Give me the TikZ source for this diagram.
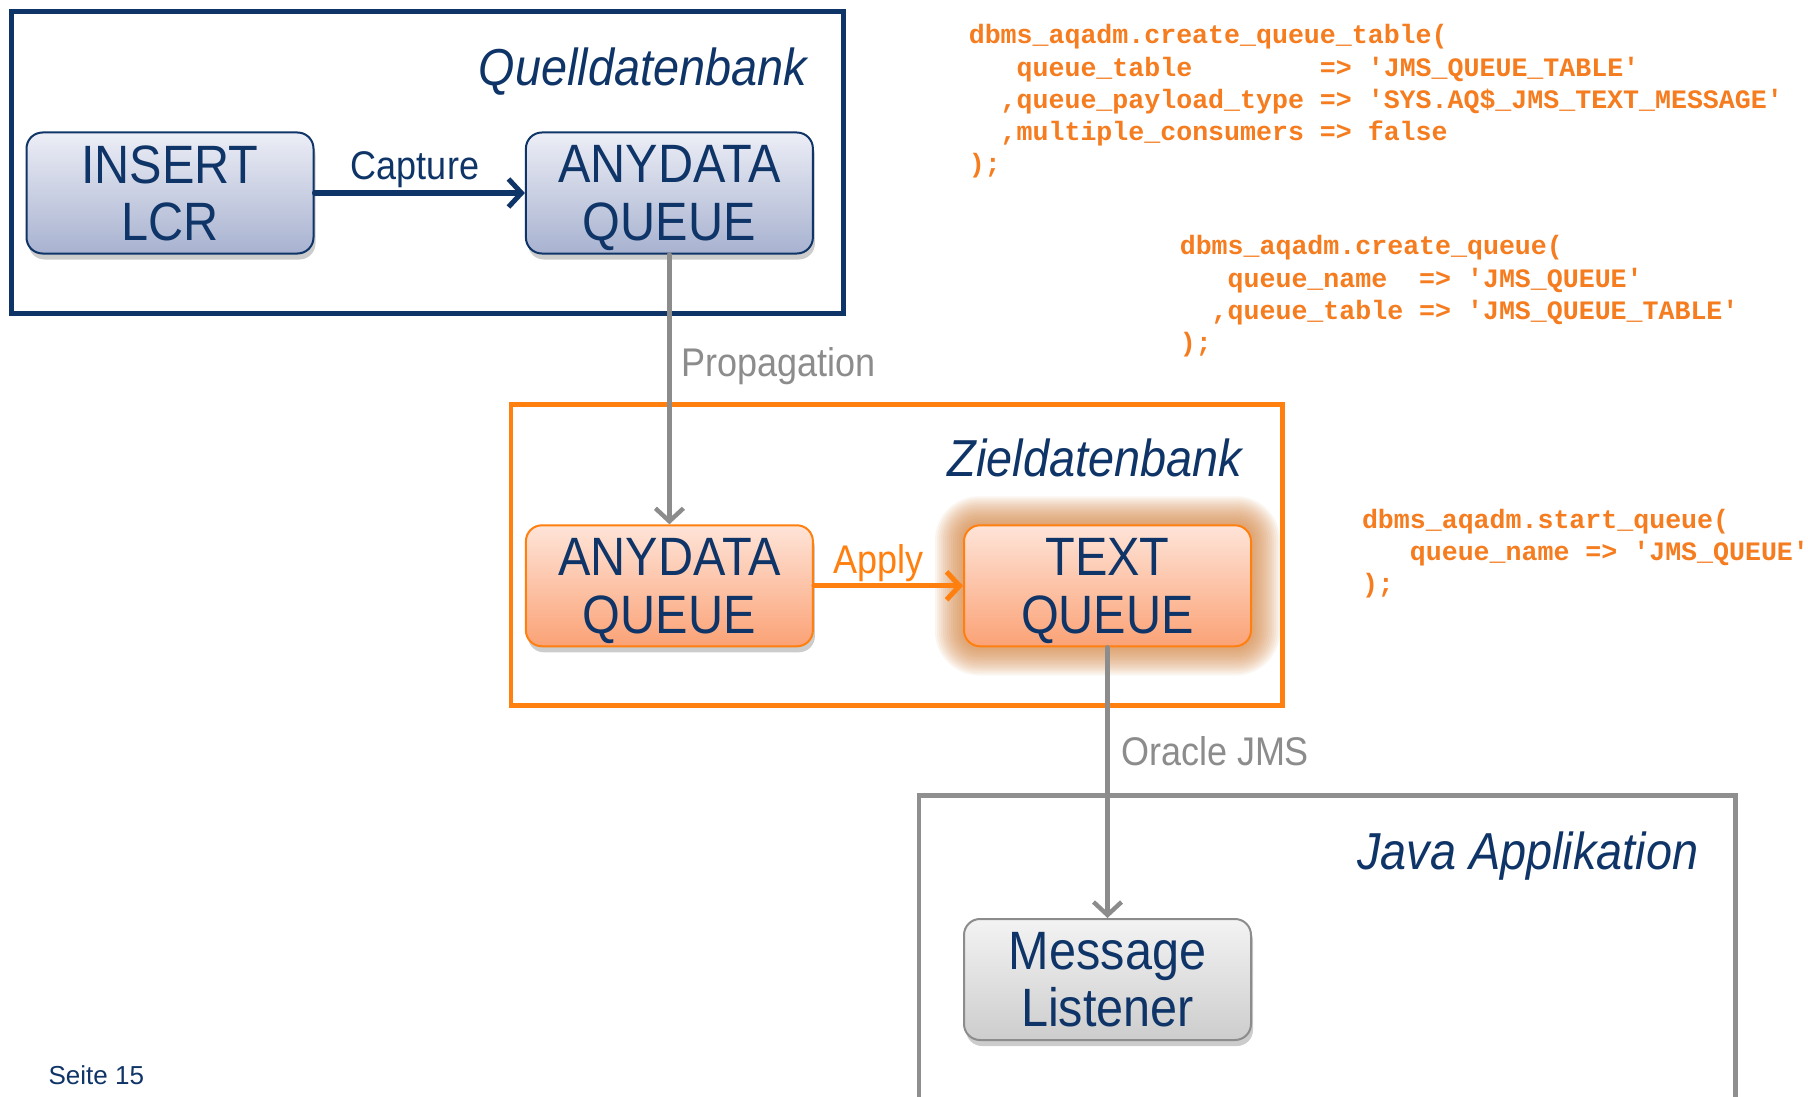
\documentclass[tikz,border=0pt]{standalone}
\usepackage{fontspec}
\setmainfont{Liberation Sans}
\newfontfamily\lblfont{Liberation Sans}[FakeStretch=0.9]
\newfontfamily\codefont{Liberation Mono}
\newfontfamily\pagefont{Liberation Sans}
\usetikzlibrary{arrows.meta,shadows,backgrounds,calc}
\definecolor{navy}{HTML}{0F3467}
\definecolor{qorange}{HTML}{FF7F0F}
\definecolor{corange}{HTML}{F57C1F}
\definecolor{arrgray}{HTML}{8C8C8C}
\definecolor{framegray}{HTML}{8F8F8F}
\definecolor{blueTop}{HTML}{ECEEF6}
\definecolor{blueBot}{HTML}{A8B2D0}
\definecolor{orTop}{HTML}{FEE4D8}
\definecolor{orBot}{HTML}{FBA276}
\definecolor{grTop}{HTML}{F3F3F3}
\definecolor{grBot}{HTML}{CDCDCD}
\definecolor{glowcol}{HTML}{D8843F}
\begin{document}
\begin{tikzpicture}[x=1pt,y=-1pt,
  box/.style={rounded corners=16pt, minimum width=287pt, minimum height=121pt,
    line width=2pt, align=center, text=navy, inner sep=0pt, text depth=-6pt,
    font=\lblfont\fontsize{54}{57.5}\selectfont},
  softshadow/.style={drop shadow={shadow xshift=2pt, shadow yshift=-6pt, opacity=0.2, fill=black}},
  bluebox/.style={box, draw=navy, top color=blueTop, bottom color=blueBot, softshadow},
  orbox/.style={box, draw=qorange, top color=orTop, bottom color=orBot},
  graybox/.style={box, draw=arrgray, top color=grTop, bottom color=grBot, softshadow},
  title/.style={anchor=base east, text=navy, inner sep=0pt, font=\lblfont\itshape\fontsize{52}{60}\selectfont},
  lbl/.style={inner sep=0pt, font=\lblfont\fontsize{40}{48}\selectfont},
  code/.style={anchor=base west, inner sep=0pt, text=corange, font=\codefont\bfseries\fontsize{26.6}{32}\selectfont},
  barb/.style={-{Straight Barb[length=13pt,width=28pt]}, line cap=round, line join=round},
]
\useasboundingbox (0,0) rectangle (1808,1097);
\clip (0,0) rectangle (1808,1097);

% frames
\draw[navy, line width=5pt] (11.5,11.5) rectangle (843,313.6);
\draw[qorange, line width=4.6pt] (510.8,404.7) rectangle (1282.2,705.7);
\draw[framegray, line width=4.6pt] (919,1120) -- (919,795.6) -- (1735.4,795.6) -- (1735.4,1120);

% titles
\node[title] (tq1) at (807,85.4) {Quelldatenbank};
\node[title] (tz1) at (1241.9,476.2) {Zieldatenbank};
\node[title] (tj1) at (1698.5,869.4) {Java Applikation};

% nodes
\node[bluebox] (ins) at (170,193) {INSERT\\LCR};
\node[bluebox] (anyT) at (669.4,193) {ANYDATA\\QUEUE};
\node[orbox, softshadow] (anyB) at (669.4,585.8) {ANYDATA\\QUEUE};
\node[orbox] (tq) at (1107.5,585.8) {TEXT\\QUEUE};
\node[graybox] (msg) at (1107.5,979.5) {Message\\Listener};

% connectors
\draw[navy, line width=5pt, barb] (ins.east) -- (anyT.west);
\draw[arrgray, line width=4.4pt, barb] (anyT.south) -- (anyB.north);
\draw[qorange, line width=5pt, barb] (anyB.east) -- (tq.west);
\draw[arrgray, line width=4.4pt, barb] (tq.south) -- (msg.north);

% connector labels
\node[lbl, text=navy, anchor=base] (lcap) at (415,179.3) {Capture};
\node[lbl, text=arrgray, anchor=base west] (lprop) at (681.5,376.4) {Propagation};
\node[lbl, text=qorange, anchor=base] (lapp) at (878.7,573.6) {Apply};
\node[lbl, text=arrgray, anchor=base west] (ljms) at (1120.8,765) {Oracle JMS};

% page number
\node[anchor=base west, inner sep=0pt, text=navy, font=\pagefont\fontsize{26}{30}\selectfont] (page) at (48.4,1084) {Seite 15};

% code block 1
\node[code] (c1a) at (968.6,43.8) {dbms\_aqadm.create\_queue\_table(};
\node[code] (c1b) at (968.6,76.1) {\phantom{xxx}queue\_table~~~~~~~~=> 'JMS\_QUEUE\_TABLE'};
\node[code] (c1c) at (968.6,108.4) {\phantom{xx},queue\_payload\_type => 'SYS.AQ\$\_JMS\_TEXT\_MESSAGE'};
\node[code] (c1d) at (968.6,140.7) {\phantom{xx},multiple\_consumers => false};
\node[code] (c1e) at (968.6,173) {);};
% code block 2
\node[code] (c2a) at (1179.6,254.8) {dbms\_aqadm.create\_queue(};
\node[code] (c2b) at (1179.6,287.1) {\phantom{xxx}queue\_name~~=> 'JMS\_QUEUE'};
\node[code] (c2c) at (1179.6,319.4) {\phantom{xx},queue\_table => 'JMS\_QUEUE\_TABLE'};
\node[code] (c2d) at (1179.6,351.7) {);};
% code block 3
\node[code] (c3a) at (1361.8,528) {dbms\_aqadm.start\_queue(};
\node[code] (c3b) at (1361.8,560.3) {\phantom{xxx}queue\_name => 'JMS\_QUEUE'};
\node[code] (c3c) at (1361.8,592.6) {);};

% background: white page and glow around TEXT QUEUE
\begin{scope}[on background layer]
  \fill[white] (0,0) rectangle (1808,1097);
  \foreach \d in {28,26,...,2} {
    \pgfmathsetmacro\rr{16+\d}
    \fill[glowcol, opacity=0.08, rounded corners=\rr pt]
      ($(tq.north west)+(-\d,-\d)$) rectangle ($(tq.south east)+(\d,\d)$);
  }
\end{scope}
\end{tikzpicture}
\end{document}
